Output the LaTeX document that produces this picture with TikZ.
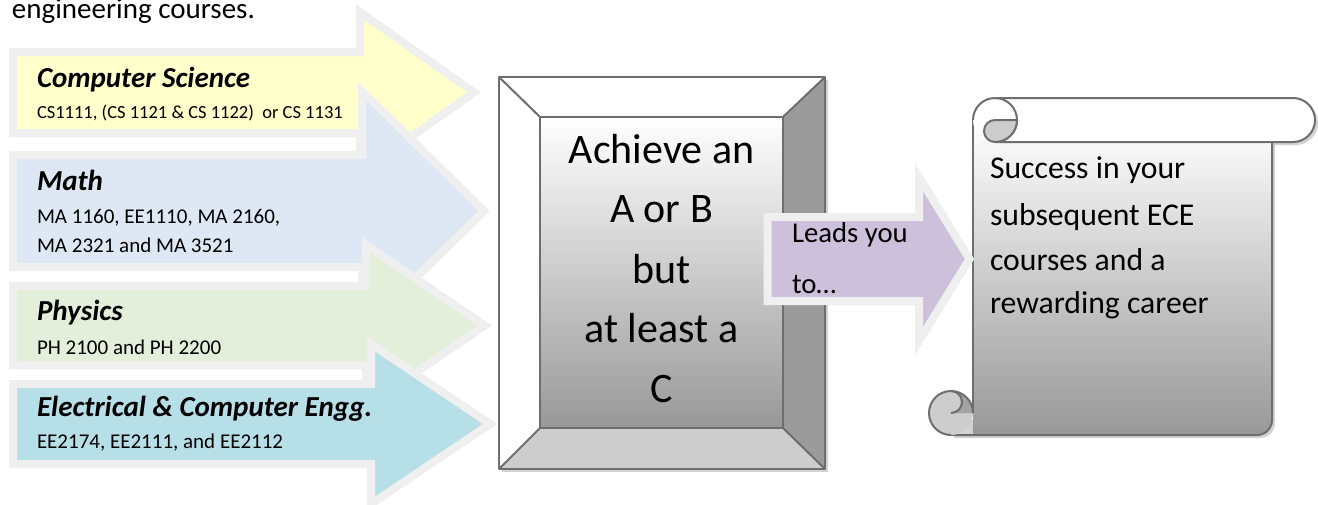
\documentclass[tikz,border=0pt]{standalone}
\usepackage{fontspec}
\setmainfont{Carlito}
\definecolor{csY}{HTML}{FFFFCC}
\definecolor{maB}{HTML}{DDE8F4}
\definecolor{phG}{HTML}{E3EFDA}
\definecolor{ecC}{HTML}{B7DFE8}
\definecolor{puP}{HTML}{CCC0DA}
\definecolor{arrB}{HTML}{EFEFEF}
\definecolor{edgeG}{HTML}{6E6E6E}
\definecolor{shadowG}{HTML}{D2D2D2}
\definecolor{faceR}{HTML}{9B9B9B}
\definecolor{faceB}{HTML}{CDCDCD}
\definecolor{innerBot}{HTML}{989898}
\definecolor{curlG}{HTML}{CDCDCD}
\definecolor{bodyAt}{HTML}{A3A3A3}
\newcommand\fsz[2]{\fontsize{#1}{#2}\selectfont}
% color, left x, centre y, shaft half height, head x, head half height, tip x
\newcommand\fatarrow[7]{%
  \filldraw[arr, fill=#1] (#2,{#3-#4}) -- (#5,{#3-#4}) -- (#5,{#3-#6}) -- (#7,#3)
    -- (#5,{#3+#6}) -- (#5,{#3+#4}) -- (#2,{#3+#4}) -- cycle;}
\tikzset{
  arr/.style={draw=arrB, line width=8pt, line join=miter, miter limit=10},
  lbl/.style={inner sep=0pt, outer sep=0pt, anchor=base west},
  headtxt/.style={lbl, font=\fsz{29}{35}\bfseries\itshape},
  subsmall/.style={lbl, font=\fsz{18.5}{22}},
  subtxt/.style={lbl, font=\fsz{21}{25}},
  boxtxt/.style={inner sep=0pt, outer sep=0pt, anchor=base, font=\fsz{42}{50}},
  leadtxt/.style={lbl, font=\fsz{28.7}{34}},
  scrolltxt/.style={lbl, font=\fsz{31.7}{38}},
  edge/.style={draw=edgeG, line width=2pt, line join=round},
}
\begin{document}
\begin{tikzpicture}[x=1pt,y=-1pt]
\useasboundingbox (0,0) rectangle (1318,504);
\fill[white] (0,0) rectangle (1318,504);

\node[lbl, font=\fsz{29}{35}] (intro) at (12,18) {engineering courses.};

% course arrows (later ones lie on top)
\fatarrow{csY}{13}{92.5}{40.5}{360}{80.5}{474}
\node[headtxt] (csh) at (37,87) {Computer Science};
\node[subsmall] (css) at (37,118) {CS1111, (CS 1121 \& CS 1122)\ \ or CS 1131};

\fatarrow{maB}{13}{211}{56}{362}{120}{484}
\node[headtxt] (mah) at (37,190) {Math};
\node[subtxt] (mas1) at (37,223) {MA 1160, EE1110, MA 2160,};
\node[subtxt] (mas2) at (37,252) {MA 2321 and MA 3521};

\fatarrow{phG}{13}{325.5}{39.5}{366}{80.5}{485}
\node[headtxt] (phh) at (37,320) {Physics};
\node[subtxt] (phs) at (37,354) {PH 2100 and PH 2200};

\fatarrow{ecC}{13}{424}{40}{371}{80}{490}
\node[headtxt] (ech) at (37,416) {Electrical \& Computer Engg.};
\node[subtxt] (ecs) at (37,448) {EE2174, EE2111, and EE2112};

% bevel box
\fill[shadowG] (502,80) rectangle (828,472);
\fill[white] (499,77) -- (825,77) -- (783,117) -- (540,117) -- cycle;
\fill[white] (499,77) -- (540,117) -- (540,428) -- (499,469) -- cycle;
\fill[faceR] (825,77) -- (825,469) -- (783,428) -- (783,117) -- cycle;
\fill[faceB] (499,469) -- (825,469) -- (783,428) -- (540,428) -- cycle;
\shade[top color=white, bottom color=innerBot] (540,117) rectangle (783,428);
\draw[edge] (499,77) rectangle (825,469);
\draw[edge] (540,117) rectangle (783,428);
\draw[edge] (499,77) -- (540,117) (825,77) -- (783,117) (499,469) -- (540,428) (825,469) -- (783,428);
\node[boxtxt] (b1) at (661.5,163) {Achieve an};
\node[boxtxt] (b2) at (661.5,222) {A or B};
\node[boxtxt] (b3) at (661.5,283) {but};
\node[boxtxt] (b4) at (661.5,342) {at least a};
\node[boxtxt] (b5) at (661.5,402) {C};

% scroll
\fill[shadowG] (998,101) -- (1296,101) arc[start angle=-90, end angle=90, radius=22] -- (998,145) -- cycle;
\fill[shadowG] (976,145) -- (1275,145) -- (1275,423) arc[start angle=0, end angle=90, radius=15] -- (954,438) -- (954,420) -- (976,420) -- cycle;
\shade[top color=white, bottom color=innerBot] (973,120) -- (1272,120) -- (1272,420) arc[start angle=0, end angle=90, radius=15] -- (973,435) -- cycle;
\draw[edge] (973,120) -- (973,413);
\draw[edge] (951,435) -- (1257,435) arc[start angle=90, end angle=0, radius=15] -- (1272,142);
\fill[white] (995,98) -- (1293,98) arc[start angle=-90, end angle=90, radius=22] -- (995,142) arc[start angle=90, end angle=270, radius=22] -- cycle;
\draw[edge] (973,120) arc[start angle=180, end angle=450, radius=22];
\draw[edge] (995,98) -- (1293,98) arc[start angle=-90, end angle=90, radius=22] -- (995,142);
\filldraw[edge, fill=curlG] (995,120) -- (1017,120) arc[start angle=0, end angle=90, radius=22] arc[start angle=90, end angle=270, radius=11] -- cycle;
\fill[curlG] (951,413) circle[radius=22];
\fill[bodyAt] (951,413) -- (951,391) arc[start angle=270, end angle=360, radius=22] -- cycle;
\fill[curlG] (951,413) arc[start angle=90, end angle=-90, radius=11] -- cycle;
\draw[edge] (973,413) arc[start angle=0, end angle=-270, radius=22];
\draw[edge] (951,413) arc[start angle=90, end angle=-90, radius=11];
\node[scrolltxt] (s1) at (990,178) {Success in your};
\node[scrolltxt] (s2) at (990,225) {subsequent ECE};
\node[scrolltxt] (s3) at (990,270) {courses and a};
\node[scrolltxt] (s4) at (990,313) {rewarding career};

% leads-to arrow
\fatarrow{puP}{767.5}{259}{42}{919}{82}{969.5}
\node[leadtxt] (l1) at (792,242) {Leads you};
\node[leadtxt] (l2) at (792,293) {to…};
\end{tikzpicture}
\end{document}
